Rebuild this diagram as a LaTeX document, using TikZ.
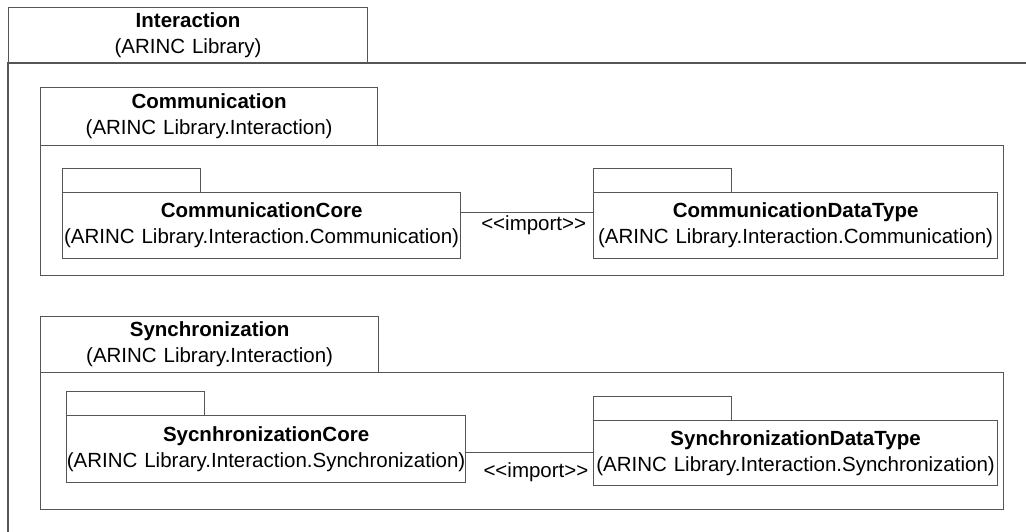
\documentclass[tikz,border=0pt]{standalone}
\usepackage{fontspec}
\setmainfont{Liberation Sans}
\usepackage{tikz}
\usetikzlibrary{positioning}
\definecolor{linegray}{HTML}{555555}
\tikzset{
	defaultstyle/.style={
		x=1pt, y=-1pt,
		line width=1.2pt,
		draw=linegray,
		every node/.style={font=\fontsize{20.5}{26}\selectfont}}}
\newcommand{\importlabel}{<{}<import>{}>}

\begin{document}
\begin{tikzpicture}[defaultstyle,
	pkg/.style 2 args={draw=linegray, rectangle, anchor=north west, inner xsep=0pt, inner ysep=2pt,
		minimum width=#1pt, minimum height=#2pt, text width=#1pt, align=center},
	imp/.style={inner sep=2pt},
	]
	\useasboundingbox (0,0) rectangle (1026,531);
	
	% outer package
	\node[pkg={359}{56}] (interTab) at (8,7) {\textbf{Interaction}\\(ARINC Library)};
	\draw (1030,63) -| (8,535);
	
	% communication
	\node[pkg={337}{58}] (commTab) at (40,87) {\textbf{Communication}\\(ARINC Library.Interaction)};
	\node[pkg={963}{130}] (commBody) at (40,145) {};
	
	\node[pkg={138}{24}] (commCoreTab) at (62,168) {};
	\node[pkg={398}{66}] (commCore) at (62,192) {\textbf{CommunicationCore}\\(ARINC Library.Interaction.Communication)};
	
	\node[pkg={138}{24}] (commTypeTab) at (593,168) {};
	\node[pkg={404}{66}] (commType) at (593,192) {\textbf{CommunicationDataType}\\(ARINC Library.Interaction.Communication)};
	
	\draw ([yshift=13pt]commCore.east) -- ([yshift=13pt]commType.west)
		node[imp, pos=0.55, below] (commImport) {\importlabel};
	
	% synchronization
	\node[pkg={338}{56}] (syncTab) at (40,316) {\textbf{Synchronization}\\(ARINC Library.Interaction)};
	\node[pkg={963}{137}] (syncBody) at (40,372) {};
	
	\node[pkg={138}{24}] (syncCoreTab) at (66,391) {};
	\node[pkg={399}{67}] (syncCore) at (66,415) {\textbf{SycnhronizationCore}\\(ARINC Library.Interaction.Synchronization)};
	
	\node[pkg={138}{24}] (syncTypeTab) at (593,396) {};
	\node[pkg={404}{65}] (syncType) at (593,420) {\textbf{SynchronizationDataType}\\(ARINC Library.Interaction.Synchronization)};
	
	\draw ([yshift=-3.5pt]syncCore.east) -- ([yshift=0.5pt]syncType.west)
		node[imp, pos=0.55, below=7pt] (syncImport) {\importlabel};
	
\end{tikzpicture}
\end{document}
